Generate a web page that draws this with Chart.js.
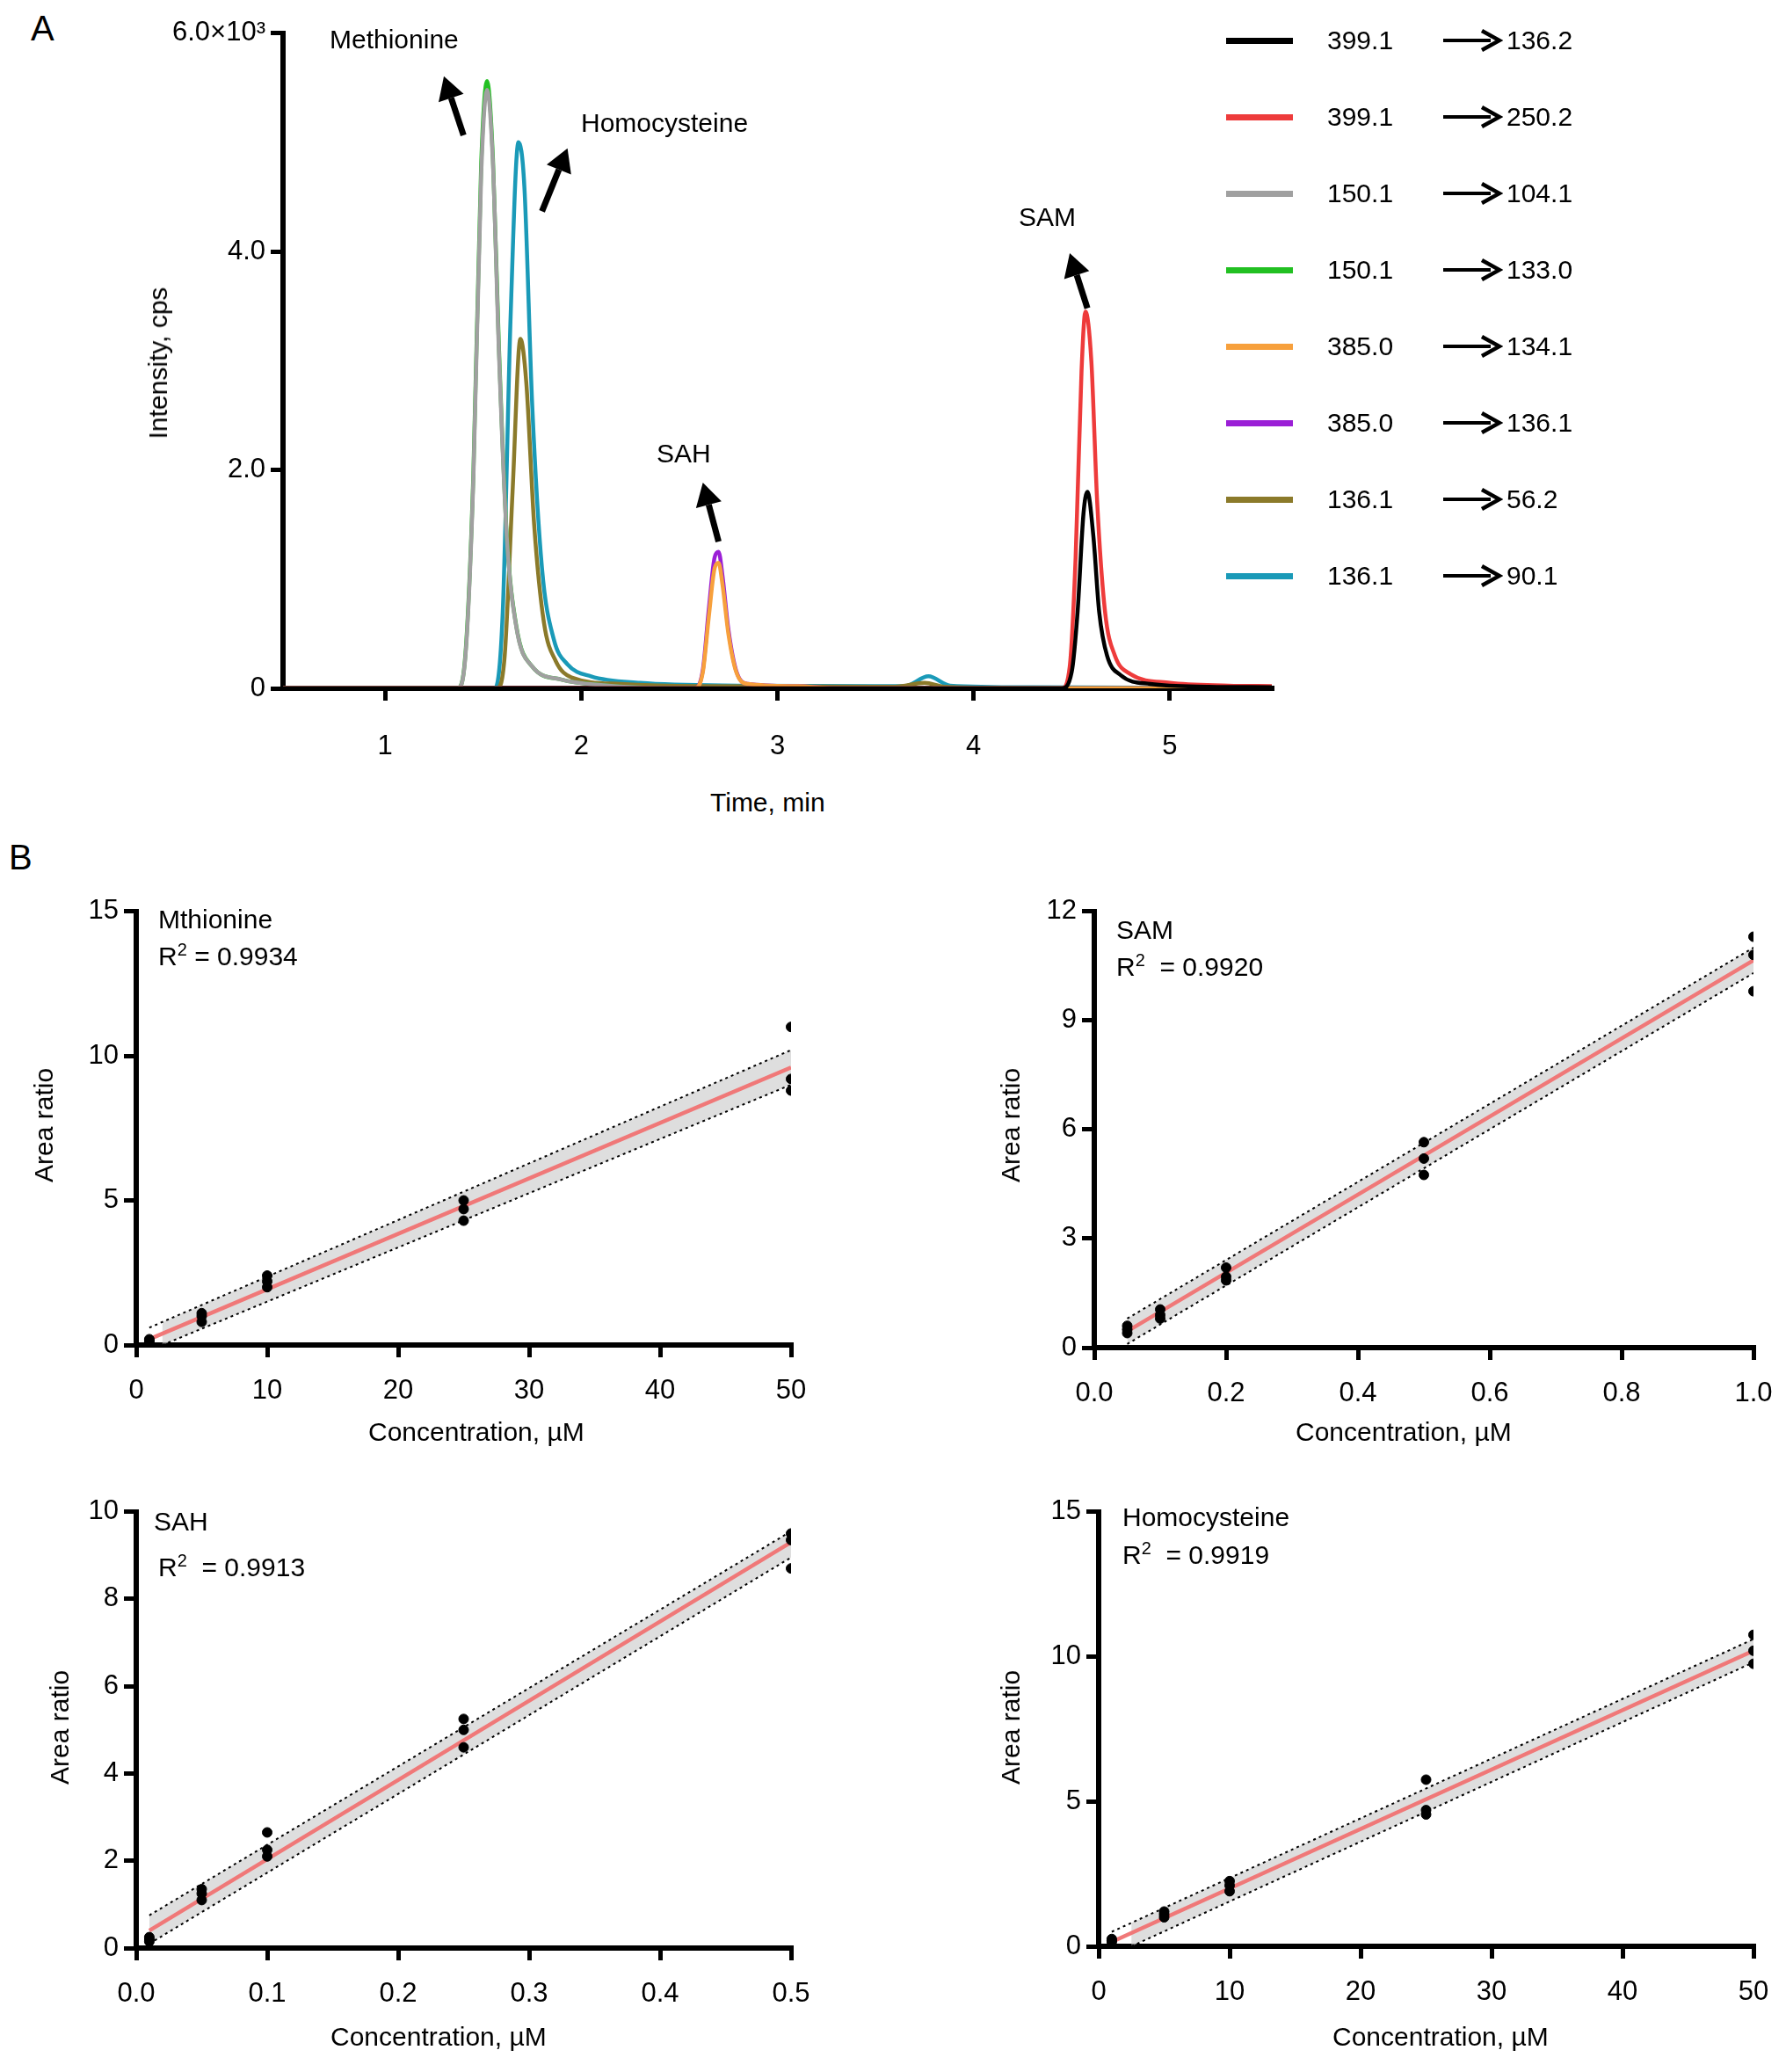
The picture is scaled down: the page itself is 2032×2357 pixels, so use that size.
<!DOCTYPE html>
<html><head><meta charset="utf-8">
<script src="https://cdn.jsdelivr.net/npm/chart.js@4"></script>
<style>
body{margin:0;width:2032px;height:2357px;background:#fff;position:relative;font-family:"Liberation Sans",Arial,sans-serif;overflow:hidden}
.box{position:absolute}
.t{position:absolute;font-size:30px;color:#000;white-space:nowrap;line-height:1}
.rot{transform:translate(-50%,-50%) rotate(-90deg)}
</style></head><body>
<script>
// ---------- Panel A data (time min, intensity cps) ----------
const legendPrec = ["399.1","399.1","150.1","150.1","385.0","385.0","136.1","136.1"];
const legendProd = ["136.2","250.2","104.1","133.0","134.1","136.1","56.2","90.1"];
const legendColors = ["#000000","#ee3b3b","#a0a0a0","#22c022","#f7a03c","#9b1fd6","#8b7a2a","#1a9ab8"];
const tBlack = [[0.48,0],[4.45,0],[4.50,150],[4.53,700],[4.56,1600],[4.58,1800],[4.61,1400],[4.64,700],[4.68,300],[4.75,120],[4.9,40],[5.2,15],[5.52,10]];
const tRed = [[0.48,0],[4.45,0],[4.49,200],[4.52,1200],[4.55,2900],[4.57,3450],[4.60,3000],[4.63,1700],[4.67,700],[4.72,300],[4.8,130],[5.0,50],[5.3,25],[5.52,20]];
const tGray = [[0.48,0],[1.37,0],[1.41,300],[1.45,1900],[1.49,4700],[1.52,5480],[1.55,4800],[1.58,3100],[1.62,1400],[1.67,550],[1.75,200],[1.9,80],[2.1,30],[2.5,0],[5.52,0]];
const tGreen = [[0.48,0],[1.37,0],[1.41,320],[1.45,1950],[1.49,4800],[1.52,5560],[1.55,4850],[1.58,3150],[1.62,1420],[1.67,560],[1.75,200],[1.9,80],[2.1,30],[2.5,0],[5.52,0]];
const tOrange = [[0.48,0],[2.58,0],[2.62,150],[2.65,650],[2.68,1100],[2.70,1150],[2.72,950],[2.75,500],[2.79,150],[2.85,40],[3.1,20],[3.3,0],[5.52,0]];
const tPurple = [[0.48,0],[2.58,0],[2.62,170],[2.65,720],[2.68,1200],[2.70,1250],[2.72,1030],[2.75,540],[2.79,160],[2.85,40],[3.1,20],[3.3,0],[5.52,0]];
const tOlive = [[0.48,0],[1.57,0],[1.61,300],[1.65,1800],[1.69,3200],[1.72,2800],[1.76,1500],[1.81,600],[1.87,250],[1.95,100],[2.2,40],[2.6,20],[3.6,15],[3.75,50],[3.85,15],[4.2,5],[5.52,0]];
const tCyan = [[0.48,0],[1.56,0],[1.60,700],[1.64,3400],[1.68,5000],[1.71,4600],[1.75,2600],[1.80,1100],[1.86,450],[1.93,220],[2.05,110],[2.3,50],[2.8,25],[3.65,20],[3.77,110],[3.88,25],[4.3,10],[5.52,0]];
const aTicksX = [1,2,3,4,5];
const aTicksY = [0,2000,4000,6000];
const aTickLabelsY = ["0","2.0","4.0","6.0×10³"];

// ---------- Panel B data ----------
const metX=[1,1,1,5,5,5,10,10,10,25,25,25,50,50,50];
const metY=[0.1,0.15,0.2,0.8,1.0,1.1,2.0,2.2,2.4,4.3,4.7,5.0,8.8,9.2,11.0];
const samX=[0.05,0.05,0.05,0.1,0.1,0.1,0.2,0.2,0.2,0.5,0.5,0.5,1,1,1];
const samY=[0.4,0.5,0.6,0.8,0.9,1.05,1.85,1.95,2.2,4.75,5.2,5.65,9.8,10.8,11.3];
const sahX=[0.01,0.01,0.01,0.05,0.05,0.05,0.1,0.1,0.1,0.25,0.25,0.25,0.5,0.5,0.5];
const sahY=[0.15,0.2,0.25,1.1,1.25,1.35,2.1,2.25,2.65,4.6,5.0,5.25,8.7,9.35,9.5];
const hcyX=[1,1,1,5,5,5,10,10,10,25,25,25,50,50,50];
const hcyY=[0.15,0.2,0.25,1.0,1.1,1.2,1.9,2.1,2.25,4.55,4.7,5.75,9.75,10.2,10.75];
const metFit=[1,0.2,50,9.6], metUp=[1,0.6,50,10.2], metLo=[2,0.0,50,9.0];
const samFit=[0.05,0.45,1,10.65], samUp=[0.05,0.8,1,11.0], samLo=[0.05,0.1,1,10.3];
const sahFit=[0.01,0.4,0.5,9.3], sahUp=[0.01,0.75,0.5,9.55], sahLo=[0.01,0.1,0.5,8.95];
const hcyFit=[1,0.15,50,10.2], hcyUp=[1,0.5,50,10.6], hcyLo=[2.5,0.0,50,9.8];

function el(cls,txt,x,y,extra){const d=document.createElement('div');d.className=cls;d.innerHTML=txt;d.style.left=x+'px';d.style.top=y+'px';if(extra)Object.assign(d.style,extra);document.body.appendChild(d);return d;}

const FONT={family:'"Liberation Sans",Arial,sans-serif',size:31};
function axis(min,max,ticks,labels,isY,pad){
  return {type:'linear',min,max,
    afterBuildTicks:s=>{s.ticks=ticks.map(v=>({value:v}));},
    afterFit:s=>{if(isY)s.width=150;else s.height=110;},
    border:{color:'#000',width:6},
    grid:{drawOnChartArea:false,drawTicks:true,tickLength:14,color:'#000',lineWidth:5},
    ticks:{color:'#000',font:FONT,padding:pad,autoSkip:false,maxRotation:0,
      callback:(v,i)=>labels?labels[i]:String(v)}};
}
function makeChart(L,T,R,B,datasets,xs,ys,plugins){
  const d=document.createElement('div');d.className='box';
  const w=R-L+200,h=B-T+130;
  Object.assign(d.style,{left:(L-150)+'px',top:(T-20)+'px',width:w+'px',height:h+'px'});
  const c=document.createElement('canvas');d.appendChild(c);document.body.appendChild(d);
  return new Chart(c,{type:'scatter',data:{datasets},
    options:{responsive:true,maintainAspectRatio:false,animation:false,
      layout:{padding:{top:20,right:50,left:0,bottom:0}},
      plugins:{legend:{display:false},tooltip:{enabled:false}},
      scales:{x:xs,y:ys}},plugins:plugins||[]});
}
const pts=a=>a.map(p=>({x:p[0],y:p[1]}));
const line=(data,color)=>({type:'line',data:pts(data),borderColor:color,borderWidth:4.5,pointRadius:0,cubicInterpolationMode:'monotone',fill:false});

// ----- Panel A ----- (first dataset is drawn on top)
const arrows=[[1.40,5064,1.30,5604],[1.80,4368,1.93,4944],[2.70,1344,2.62,1884],[4.58,3480,4.49,3984]];
const arrowPlugin={id:'arr',afterDatasetsDraw(ch){const c=ch.ctx,x=ch.scales.x,y=ch.scales.y;
  c.save();c.strokeStyle='#000';c.fillStyle='#000';c.lineWidth=7;
  arrows.forEach(a=>{const x0=x.getPixelForValue(a[0]),y0=y.getPixelForValue(a[1]),x1=x.getPixelForValue(a[2]),y1=y.getPixelForValue(a[3]);
    const ang=Math.atan2(y1-y0,x1-x0),hl=26,hw=15;
    const bx=x1-hl*Math.cos(ang),by=y1-hl*Math.sin(ang);
    c.beginPath();c.moveTo(x0,y0);c.lineTo(bx,by);c.stroke();
    c.beginPath();c.moveTo(x1,y1);c.lineTo(bx+hw*Math.sin(ang),by-hw*Math.cos(ang));c.lineTo(bx-hw*Math.sin(ang),by+hw*Math.cos(ang));c.closePath();c.fill();});
  c.restore();}};
makeChart(322,33,1447,783,[
  line(tBlack,legendColors[0]),line(tRed,legendColors[1]),line(tOrange,legendColors[4]),line(tPurple,legendColors[5]),
  line(tGray,legendColors[2]),line(tGreen,legendColors[3]),line(tOlive,legendColors[6]),line(tCyan,legendColors[7])
 ],axis(0.48,5.52,aTicksX,null,false,34),axis(0,6000,aTicksY,aTickLabelsY,true,6),[arrowPlugin]);
legendPrec.forEach((p,i)=>{const yc=46+i*87;
  el('box','',1395,yc-3,{width:'76px',height:'7px',background:legendColors[i]});
  el('t',p,1510,yc-15);
  el('box','<svg width="70" height="30"><line x1="2" y1="15" x2="56" y2="15" stroke="#000" stroke-width="4"/><path d="M46 4 L66 15 L46 26" fill="none" stroke="#000" stroke-width="4.5"/></svg>',1640,yc-15);
  el('t',legendProd[i],1714,yc-15);
});
el('t','Methionine',375,30);
el('t','Homocysteine',661,125);
el('t','SAH',747,501);
el('t','SAM',1159,232);
el('t','Time, min',808,898);
el('t rot','Intensity, cps',180,413,{position:'absolute'});
el('t','A',35,12,{fontSize:'40px'});
el('t','B',10,955,{fontSize:'40px'});

// ----- Panel B -----
function calib(L,T,R,B,xs,ys,fit,up,lo,xr,xt,xl,yr,yt,yl){
  const seg=a=>[{x:a[0],y:a[1]},{x:a[2],y:a[3]}];
  makeChart(L,T,R,B,[
    {data:xs.map((v,i)=>({x:v,y:ys[i]})),backgroundColor:'#000',borderColor:'#000',pointRadius:5.5},
    {type:'line',data:seg(fit),borderColor:'#f07878',borderWidth:4.5,pointRadius:0,fill:false},
    {type:'line',data:seg(lo),borderColor:'#000',borderWidth:2,borderDash:[3,4],pointRadius:0,fill:false},
    {type:'line',data:seg(up),borderColor:'#000',borderWidth:2,borderDash:[3,4],pointRadius:0,fill:2,backgroundColor:'rgba(200,200,200,0.6)'}
  ],axis(xr[0],xr[1],xt,xl,false,20),axis(yr[0],yr[1],yt,yl,true,6));
}
const f1=a=>a.map(v=>v.toFixed(1));
calib(155,1032,900,1530,metX,metY,metFit,metUp,metLo,[0,50],[0,10,20,30,40,50],null,[0,15],[0,5,10,15],null);
calib(1245,1032,1995,1533,samX,samY,samFit,samUp,samLo,[0,1],[0,0.2,0.4,0.6,0.8,1],f1([0,0.2,0.4,0.6,0.8,1]),[0,12],[0,3,6,9,12],null);
calib(155,1715,900,2216,sahX,sahY,sahFit,sahUp,sahLo,[0,0.5],[0,0.1,0.2,0.3,0.4,0.5],f1([0,0.1,0.2,0.3,0.4,0.5]),[0,10],[0,2,4,6,8,10],null);
calib(1250,1715,1995,2214,hcyX,hcyY,hcyFit,hcyUp,hcyLo,[0,50],[0,10,20,30,40,50],null,[0,15],[0,5,10,15],null);

el('t','Mthionine',180,1031);
el('t','R<sup style="font-size:20px">2</sup> = 0.9934',180,1070);
el('t','SAM',1270,1043);
el('t','R<sup style="font-size:20px">2</sup>&nbsp; = 0.9920',1270,1082);
el('t','SAH',175,1716);
el('t','R<sup style="font-size:20px">2</sup>&nbsp; = 0.9913',180,1765);
el('t','Homocysteine',1277,1711);
el('t','R<sup style="font-size:20px">2</sup>&nbsp; = 0.9919',1277,1751);
el('t','Concentration, µM',419,1614);
el('t','Concentration, µM',1474,1614);
el('t','Concentration, µM',376,2302);
el('t','Concentration, µM',1516,2302);
el('t rot','Area ratio',50,1280,{position:'absolute'});
el('t rot','Area ratio',1150,1280,{position:'absolute'});
el('t rot','Area ratio',68,1965,{position:'absolute'});
el('t rot','Area ratio',1150,1965,{position:'absolute'});
</script>
</body></html>
